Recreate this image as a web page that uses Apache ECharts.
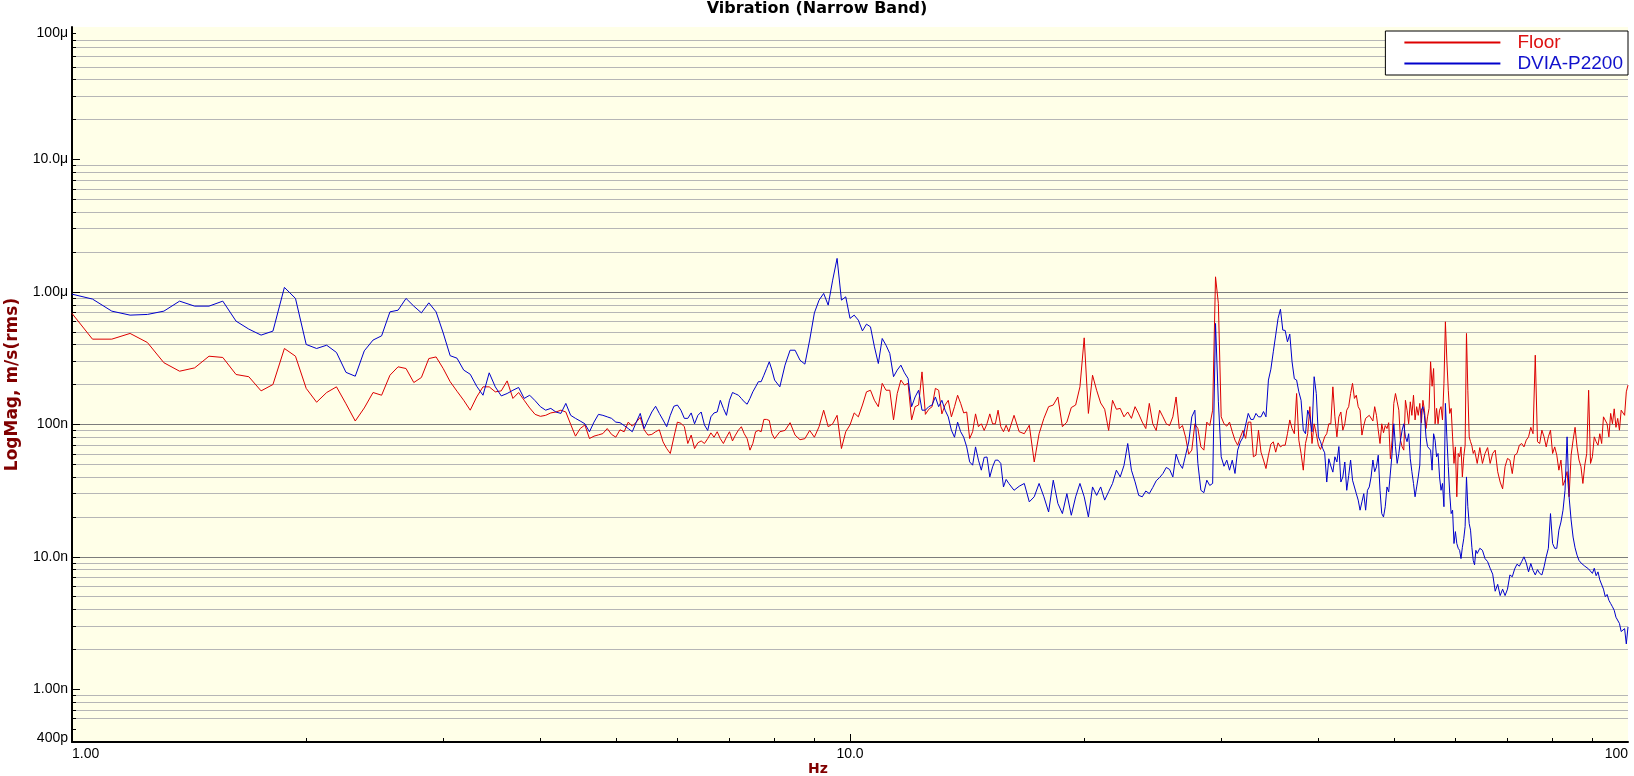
<!DOCTYPE html>
<html>
<head>
<meta charset="utf-8">
<title>Vibration (Narrow Band)</title>
<script src="https://cdn.jsdelivr.net/npm/echarts@6.0.0/dist/echarts.min.js"></script>
<style>
  html, body { margin: 0; padding: 0; background: #fff; }
  #chart { width: 1634px; height: 776px; }
</style>
</head>
<body>
<div id="chart"></div>
<script>
// FFT bins: each band starts at bandStart[k] Hz and steps bandStep[k] Hz
const bandStart = [1, 8.125, 16.25, 32.25, 64.5];
const bandStep = [0.0625, 0.125, 0.25, 0.25, 0.5];

// Floor, velocity in nm/s (rms)
const floorA = [
  688, 440, 440, 486, 415, 292, 252, 267, 327, 320, 238, 229, 179, 200, 374, 327, 187,
  147, 174, 192, 143, 106, 133, 174, 166, 235, 272, 264, 207, 226, 314, 323, 264,
  210, 178, 152, 128, 161, 192, 192, 176, 179, 213, 157, 174, 152, 133, 119, 115,
  117, 122, 124, 128, 124, 100, 81.5, 93, 99, 78.2, 81.5, 83.3, 85.2, 93, 84, 80.1,
  91, 87.9, 104, 96.9, 104, 113, 91, 83, 84, 88, 91, 73.8, 65.7, 60.3, 80, 104,
  102, 96, 71.7, 83, 65.7, 72.6, 75, 71.7, 78, 86.3, 80, 88, 78, 71.7, 80, 88,
  75, 83, 90.4, 96, 85, 78, 63.9, 71.7, 88, 90, 88, 109, 109, 107, 85, 78
];
const floorB = [
  88, 90, 103, 83, 76.6, 78, 90, 80,
  96, 128, 96, 101, 117, 65.7, 88, 99,
  122, 114, 140, 176, 181, 152, 136, 204,
  181, 181, 108, 171, 216, 198, 204, 108,
  136, 140, 249, 119, 130, 136, 187, 181,
  120, 140, 152, 114, 136, 166, 144, 122,
  124, 78.2, 88, 120, 96, 101, 90, 101,
  120, 101, 101, 128, 96, 88, 98.5, 88
];
const floorC = [
  117, 88, 85, 98.5,  52, 85, 111, 136,  140, 161, 96, 104,  134, 140, 192, 450,
  121, 235, 181, 145,  130, 90, 152, 130,  132, 114, 124, 111,  136, 120, 104, 93,
  144, 101, 90, 128,  114, 101, 98, 114,  161, 93, 98, 80,  59.6, 63.9, 101, 93,
  67.6, 63.9, 104, 98,  128, 1300, 818, 114,  101, 97, 104, 88,  76, 69.6, 80, 90
];
const floorD = [
  78.4, 104, 104, 56.9,  58.5, 90.4, 61.7, 53.8,  46.4, 58.5, 71, 73.8,  61.7, 72.5, 67.6, 69.6,
  69.6, 85, 108, 93,  85, 171, 76, 60.3,  45.1, 71.7, 85, 136,  71.7, 101, 85, 69.6,
  64.7, 71.7, 80.5, 85,  101, 101, 192, 114,  80.5, 114, 124, 90.4,  101, 128, 136, 171,
  204, 157, 166, 136,  128, 83, 98, 111,  108, 117, 121, 106,  136, 117, 90.4, 71.7,
  101, 86.5, 98, 93,  103, 55, 76, 144,  171, 148, 128, 76,  67.6, 63.9, 152, 128,
  101, 148, 117, 166,  108, 136, 117, 144,  103, 152, 128, 93,  114, 132, 297, 194,
  264, 101, 132, 101,  128, 136, 108, 204,  595, 305, 181, 121,  132, 80.5, 50.7, 67.6,
  28.4, 60.3, 57, 67.6,  40.1, 57, 69.6, 486,  181, 80.5, 74, 69,  60.3, 63.9, 63.9, 50.7
];
const floorE = [
  66.8, 50.7, 60.3, 66.8, 50.7, 60.3, 63.9, 43.9, 36.7, 32.6, 48, 55.3,
  53.8, 42.5, 58.5, 60.3, 69.6, 71.7, 67.6, 76, 80.5, 95,
  85, 333, 74, 71.7, 90.4, 80.5, 67.6, 80.5, 90.4, 60.3,
  67.6, 58.5, 45.1, 53.8, 34.6, 38, 44, 28.4, 58.5, 76,
  95, 67.6, 53.8, 48, 35.8, 49.3, 60.3, 181, 50.7, 57,
  80.5, 74, 69.6, 85, 71.7, 114, 117, 101, 80.5, 121,
  101, 131, 95, 111, 90.4, 128, 132, 117, 176, 198
];

// DVIA-P2200, velocity in nm/s (rms)
const dviaA = [
  962, 883, 716, 668, 676, 716, 852, 781, 781, 852, 602, 524, 472, 506, 1082, 893, 401,
  374, 396, 349, 247, 231, 359, 433, 466, 707, 728, 893, 781, 695, 827, 707, 490,
  330, 316, 257, 239, 194, 166, 245, 192, 164, 171, 181, 190, 157, 166, 151, 136,
  128, 132, 124, 121, 144, 117, 111, 106, 101, 87.9, 104, 119, 117, 114, 111, 104,
  103, 98, 93, 88, 104, 121, 93, 108, 124, 137, 121, 108, 96, 117, 137, 140,
  128, 111, 111, 122, 101, 117, 124, 99, 90, 114, 122, 124, 152, 132, 117, 152,
  174, 170, 166, 157, 148, 142, 157, 176, 192, 210, 210, 235, 264, 297, 257, 216
];
const dviaB = [
  192, 280, 363, 363, 305, 285, 433, 695,
  867, 974, 795, 1227, 1791, 867, 918, 631,
  668, 612, 508, 571, 545, 385, 288, 445,
  396, 343, 229, 257, 280, 245, 222, 136,
  161, 181, 128, 128, 136, 140, 161, 136,
  152, 128, 114, 90.4, 80, 104, 88, 80,
  67.6, 52.1, 49.2, 67.6, 53.7, 45.1, 56.3, 56.7,
  40.1, 47.8, 53.7, 53.7, 50.7, 33.7, 38.4, 35.8
];
const dviaC = [
  31.8, 34.1, 35.8, 26,  28.4, 35.8, 28.4, 21.8,  37.9, 25.3, 21.2, 30,  20.6, 28.4, 35.8, 28.4,
  20, 33.7, 29.1, 33.7,  26.8, 31, 35.8, 45.1,  40.1, 49, 71.7, 45.1,  36.8, 29.1, 28.4, 31.4,
  30, 33.4, 37.5, 39.7,  42.6, 47.3, 45.7, 40.1,  59.6, 50.7, 46.5, 58.5,  73.6, 114, 128, 50.7,
  31.8, 30.5, 37.9, 34.6,  35.8, 578, 148, 56.9,  48.3, 53.7, 45.1, 53.7,  42.6, 63.9, 73.6, 80
];
const dviaD = [
  99, 121, 109, 109,  121, 114, 114, 125,  114, 216, 261, 353,  472, 631, 740, 515,
  512, 420, 480, 297,  221, 216, 176, 152,  90.4, 85, 128, 114,  88, 229, 171, 80.5,
  74, 66, 61, 36.7,  55, 48.5, 43.6, 56.9,  52, 68, 36.7, 40.1,  52, 31.8, 41, 53.8,
  37.9, 36.7, 30, 26.8,  22.5, 26, 30, 22.5,  31.8, 33.7, 40.1, 53.8,  43.9, 47.8, 58.5, 31.8,
  21.2, 20, 23.9, 33.7,  30.9, 30, 60.3, 101,  68, 50.7, 60.3, 76,  90.4, 101, 80.5, 74,
  85, 55, 43.9, 35.8,  28.4, 33.7, 40.1, 49.3,  128, 136, 117, 80.5,  68, 68, 63.9, 45.1,
  85, 76, 56.9, 60.3,  40.1, 31.8, 35.8, 23.9,  144, 80.5, 48, 30,  21.2, 22.5, 12.6, 15.5,
  12.6, 11.6, 11.2, 9.7,  11.8, 13.7, 16.9, 40.1,  23.9, 17.8, 15.9, 11.8,  9.4, 8.7, 11.2, 10.6
];
const dviaE = [
  11.6, 11.2, 9.7, 9.2, 8.2, 7.4, 5.5, 6.2, 5.1, 5.7, 5.1, 5.7,
  7.3, 7.07, 8.1, 8.8, 8.5, 9.2, 10, 9, 7.7, 8.9,
  7.9, 7.3, 8, 7.5, 7.3, 8.4, 10, 11.6, 21.2, 12.6,
  11.6, 11.6, 15.9, 18.3, 22.5, 31.8, 80.5, 28.4, 19, 14.1,
  11.7, 10.3, 9.4, 9, 9.2, 8.5, 8.7, 8.1, 7.9, 7.5,
  8.2, 7.2, 7.7, 6.7, 6.5, 5.7, 5, 5.2, 4.7, 4.44,
  4.2, 3.95, 3.5, 3.5, 3.14, 2.73, 2.64, 2.87, 2.2, 2.96
];

// axis ticks and labels (Hz, nm/s)
const xMinorTicks = [2, 3, 4, 5, 6, 7, 8, 9, 20, 30, 40, 50, 60, 70, 80, 90];
const xLabelValues = [1, 10, 100];
const xLabelTexts = ['1.00', '10.0', '100'];
const yMinorTicks = [
  0.5, 0.6, 0.7, 0.8, 0.9,
  2, 3, 4, 5, 6, 7, 8, 9,
  20, 30, 40, 50, 60, 70, 80, 90,
  200, 300, 400, 500, 600, 700, 800, 900,
  2000, 3000, 4000, 5000, 6000, 7000, 8000, 9000,
  20000, 30000, 40000, 50000, 60000, 70000, 80000, 90000
];
const yMajorTicks = [1, 10, 100, 1000, 10000];
const yLabelValues = [0.4, 1, 10, 100, 1000, 10000, 100000];
const yLabelTexts = ['400p', '1.00n', '10.0n', '100n', '1.00μ', '10.0μ', '100μ'];

const FONT = '"Liberation Sans", Arial, sans-serif';
const FONT_WIDE = '"DejaVu Sans", Verdana, sans-serif';

function toPoints(bands) {
  const pts = [];
  bands.forEach((vals, k) => {
    vals.forEach((v, i) => pts.push([bandStart[k] + i * bandStep[k], v]));
  });
  return pts;
}

function findIndex(values, val) {
  return values.findIndex(v => Math.abs(Math.log10(v) - Math.log10(val)) < 1e-6);
}

const chart = echarts.init(document.getElementById('chart'));

const option = {
  animation: false,
  backgroundColor: '#ffffff',
  title: {
    text: 'Vibration (Narrow Band)',
    left: 'center',
    top: 0,
    padding: [1, 0, 0, 0],
    textStyle: { fontFamily: FONT_WIDE, fontSize: 16, fontWeight: 'bold', color: '#000' }
  },
  legend: {
    orient: 'vertical',
    right: 6,
    top: 31,
    padding: [1, 5, 1, 19],
    itemGap: 0,
    itemWidth: 96,
    itemHeight: 14,
    icon: 'path://M0,0H96V2H0Z',
    backgroundColor: '#ffffff',
    borderColor: '#000000',
    borderWidth: 1,
    borderRadius: 0,
    textStyle: { fontFamily: FONT, fontSize: 19, lineHeight: 21, padding: [0, 0, 0, 12] },
    data: [
      { name: 'Floor', textStyle: { color: '#dd1111' } },
      { name: 'DVIA-P2200', textStyle: { color: '#1111cc' } }
    ]
  },
  grid: {
    left: 72,
    right: 6,
    top: 27,
    bottom: 34,
    show: true,
    backgroundColor: '#ffffe8',
    borderWidth: 0,
    containLabel: false,
    outerBoundsMode: 'none'
  },
  xAxis: [
    {
      type: 'log',
      logBase: 10,
      min: 1,
      max: 100,
      position: 'bottom',
      axisLine: { show: true, onZero: false, lineStyle: { color: '#000', width: 2 } },
      axisTick: { show: true, inside: true, length: 4, lineStyle: { color: '#000' }, customValues: xMinorTicks },
      axisLabel: { show: false },
      splitLine: { show: false },
      name: 'Hz',
      nameLocation: 'middle',
      nameGap: 20,
      nameTextStyle: { fontFamily: FONT_WIDE, fontSize: 14, fontWeight: 'bold', color: '#800000', padding: [0, 64, 0, 0] }
    },
    {
      type: 'log',
      logBase: 10,
      min: 1,
      max: 100,
      position: 'bottom',
      axisLine: { show: false },
      axisTick: { show: true, inside: true, length: 8, lineStyle: { color: '#000' }, customValues: [10] },
      splitLine: { show: true, showMinLine: false, showMaxLine: false, lineStyle: { color: '#8a8a8a', width: 1 } },
      axisLabel: {
        show: true,
        customValues: xLabelValues,
        formatter: (val) => {
          const i = findIndex(xLabelValues, val);
          return i >= 0 ? xLabelTexts[i] : '';
        },
        margin: 5,
        color: '#000',
        fontFamily: FONT,
        fontSize: 14,
        alignMinLabel: 'left',
        alignMaxLabel: 'right'
      }
    }
  ],
  yAxis: [
    {
      type: 'log',
      logBase: 10,
      min: 0.4,
      max: 100000,
      position: 'left',
      axisLine: { show: true, onZero: false, lineStyle: { color: '#000', width: 2 } },
      axisTick: { show: true, inside: true, length: 4, lineStyle: { color: '#000' }, customValues: yMinorTicks },
      axisLabel: { show: false },
      splitLine: { show: true, showMinLine: false, showMaxLine: false, lineStyle: { color: '#b6b6b6', width: 1 } },
      name: 'LogMag, m/s(rms)',
      nameLocation: 'middle',
      nameGap: 51,
      nameTextStyle: { fontFamily: FONT_WIDE, fontSize: 17, fontWeight: 'bold', color: '#800000' }
    },
    {
      type: 'log',
      logBase: 10,
      min: 0.4,
      max: 100000,
      position: 'left',
      axisLine: { show: false },
      axisTick: { show: true, inside: true, length: 8, lineStyle: { color: '#000' }, customValues: yMajorTicks },
      splitLine: { show: true, showMinLine: false, showMaxLine: false, lineStyle: { color: '#7c7c7c', width: 1 } },
      axisLabel: {
        show: true,
        customValues: yLabelValues,
        formatter: (val) => {
          const i = findIndex(yLabelValues, val);
          if (i < 0) return '';
          // nudge the two edge labels inside the plot, as in the original
          if (i === yLabelValues.length - 1) return '{top|' + yLabelTexts[i] + '}';
          if (i === 0) return '{bot|' + yLabelTexts[i] + '}';
          return yLabelTexts[i];
        },
        margin: 4,
        color: '#000',
        fontFamily: FONT,
        fontSize: 14,
        rich: {
          top: { fontFamily: FONT, fontSize: 14, color: '#000', padding: [12, 0, 0, 0] },
          bot: { fontFamily: FONT, fontSize: 14, color: '#000', padding: [0, 0, 8, 0] }
        }
      }
    }
  ],
  series: [
    {
      name: 'Floor',
      type: 'line',
      xAxisIndex: 0,
      yAxisIndex: 0,
      symbol: 'none',
      color: '#dd0000',
      lineStyle: { color: '#dd0000', width: 1 },
      data: toPoints([floorA, floorB, floorC, floorD, floorE])
    },
    {
      name: 'DVIA-P2200',
      type: 'line',
      xAxisIndex: 0,
      yAxisIndex: 0,
      symbol: 'none',
      color: '#0000cc',
      lineStyle: { color: '#0000cc', width: 1 },
      data: toPoints([dviaA, dviaB, dviaC, dviaD, dviaE])
    }
  ]
};

chart.setOption(option);
window.addEventListener('resize', () => chart.resize());
</script>
</body>
</html>
